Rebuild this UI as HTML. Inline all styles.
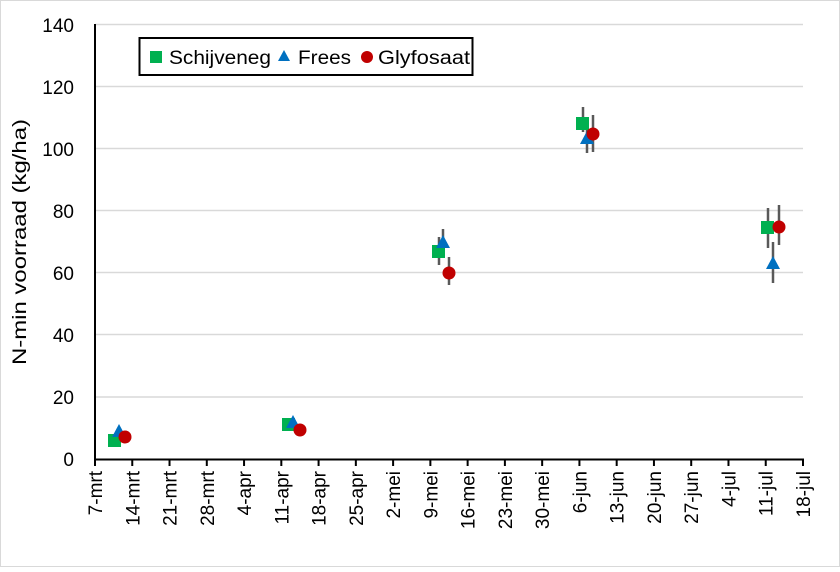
<!DOCTYPE html>
<html><head><style>body{margin:0;background:#fff}</style></head><body>
<svg width="840" height="567" xmlns="http://www.w3.org/2000/svg" font-family="Liberation Sans, sans-serif">
<rect x="0.5" y="0.5" width="839" height="566" fill="#fff" stroke="#d9d9d9"/>
<g stroke="#d9d9d9" stroke-width="1.5">
<line x1="95" x2="803" y1="24.5" y2="24.5"/><line x1="95" x2="803" y1="86.5" y2="86.5"/>
<line x1="95" x2="803" y1="148.5" y2="148.5"/><line x1="95" x2="803" y1="210.5" y2="210.5"/>
<line x1="95" x2="803" y1="272.5" y2="272.5"/><line x1="95" x2="803" y1="334.5" y2="334.5"/>
<line x1="95" x2="803" y1="397" y2="397"/>
</g>
<line x1="95" y1="24" x2="95" y2="460" stroke="#000" stroke-width="2"/>
<line x1="95" y1="459.5" x2="804" y2="459.5" stroke="#000" stroke-width="2"/>
<g stroke="#000" stroke-width="2" id="ticks"></g>
<g font-size="19" fill="#000" text-anchor="end">
<text x="74" y="466">0</text><text x="74" y="404">20</text><text x="74" y="342">40</text>
<text x="74" y="280">60</text><text x="74" y="218">80</text><text x="74" y="156">100</text>
<text x="74" y="94">120</text><text x="74" y="32">140</text>
</g>
<text transform="translate(26,242) rotate(-90)" font-size="19" text-anchor="middle" textLength="246" lengthAdjust="spacingAndGlyphs">N-min voorraad (kg/ha)</text>
<g id="xl" font-size="19" text-anchor="end"></g>
<g stroke="#595959" stroke-width="2.5">
<line x1="439" x2="439" y1="237" y2="265"/><line x1="443" x2="443" y1="229" y2="258"/><line x1="449" x2="449" y1="257" y2="285"/>
<line x1="583" x2="583" y1="107" y2="132"/><line x1="587" x2="587" y1="125" y2="153"/><line x1="593" x2="593" y1="115" y2="152"/>
<line x1="768" x2="768" y1="208" y2="248"/><line x1="773" x2="773" y1="242" y2="283"/><line x1="779" x2="779" y1="205" y2="245"/>
</g>
<g fill="#00b050">
<rect x="108" y="434" width="13" height="13"/><rect x="282" y="418" width="13" height="13"/>
<rect x="432" y="245" width="13" height="13"/><rect x="576" y="117" width="13" height="13"/><rect x="761" y="221" width="13" height="13"/>
</g>
<g fill="#0070c0">
<polygon points="119,424 126,437 112,437"/><polygon points="293,415 300,428 286,428"/>
<polygon points="443,235 450,248 436,248"/><polygon points="587,131 594,144 580,144"/><polygon points="773,256 780,269 766,269"/>
</g>
<g fill="#c00000">
<circle cx="125" cy="437" r="6.5"/><circle cx="300" cy="430" r="6.5"/><circle cx="449" cy="273" r="6.5"/>
<circle cx="593" cy="134" r="6.5"/><circle cx="779" cy="227" r="6.5"/>
</g>
<rect x="139.5" y="38" width="333" height="37" fill="#fff" stroke="#000" stroke-width="2"/>
<rect x="150" y="51" width="12" height="12" fill="#00b050"/>
<text x="169" y="64" font-size="19" textLength="102" lengthAdjust="spacingAndGlyphs">Schijveneg</text>
<polygon points="284,50 290,61 278,61" fill="#0070c0"/>
<text x="298" y="64" font-size="19" textLength="53" lengthAdjust="spacingAndGlyphs">Frees</text>
<circle cx="367" cy="57" r="6" fill="#c00000"/>
<text x="378" y="64" font-size="19" textLength="92" lengthAdjust="spacingAndGlyphs">Glyfosaat</text>
<script>
var L=["7-mrt","14-mrt","21-mrt","28-mrt","4-apr","11-apr","18-apr","25-apr","2-mei","9-mei","16-mei","23-mei","30-mei","6-jun","13-jun","20-jun","27-jun","4-jul","11-jul","18-jul"];
var t=document.getElementById("ticks"),x=document.getElementById("xl"),ns="http://www.w3.org/2000/svg";
for(var i=0;i<20;i++){var px=95+i*708/19;
var l=document.createElementNS(ns,"line");l.setAttribute("x1",px);l.setAttribute("x2",px);l.setAttribute("y1",459);l.setAttribute("y2",466);t.appendChild(l);
var s=document.createElementNS(ns,"text");s.setAttribute("transform","translate("+(px+7)+",471) rotate(-90)");s.textContent=L[i];x.appendChild(s);}
</script>
</svg>
</body></html>
